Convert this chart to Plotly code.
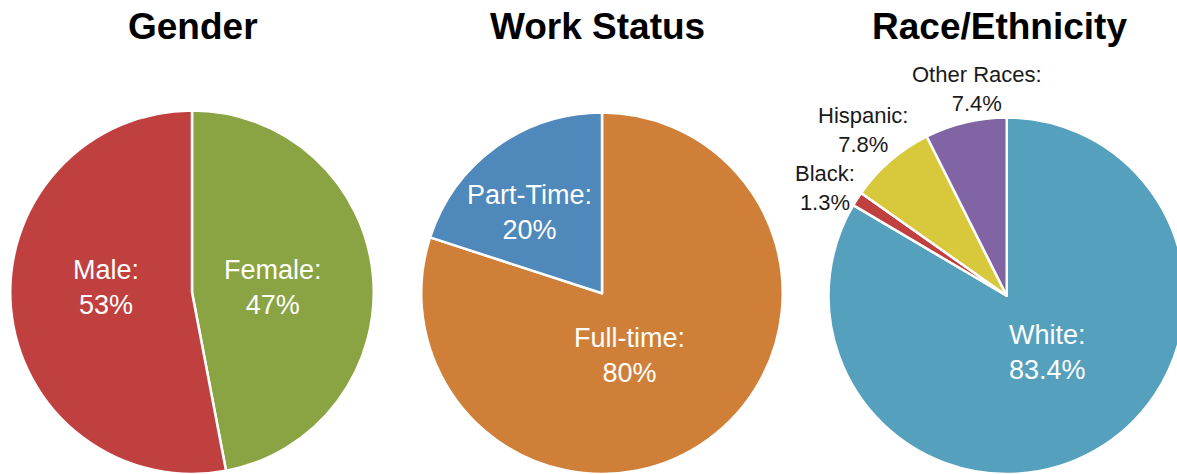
import plotly.graph_objects as go

# Survey breakdowns (percent)
gender_labels = ["Female", "Male"]
gender_values = [47, 53]
gender_colors = ["#8AA343", "#C0403F"]

work_labels = ["Full-time", "Part-Time"]
work_values = [80, 20]
work_colors = ["#D07F38", "#4F88BA"]

race_labels = ["White", "Black", "Hispanic", "Other Races"]
race_values = [83.4, 1.3, 7.8, 7.4]
race_colors = ["#55A0BC", "#C0403F", "#D8C83B", "#8064A3"]

titles = ["Gender", "Work Status", "Race/Ethnicity"]

W, H = 1185, 474
FONT = "Liberation Sans, Arial, sans-serif"

# Pie placement in pixels: (centre x, centre y from top, radius)
pie_geom = [(192, 292.5, 182), (602, 293.5, 181), (1007, 296, 178.5)]

# Label anchors in pixels (x, y from top) and whether the label sits inside
label_pos = {
    "Female": (273, 287.5, True),
    "Male": (106.5, 287.5, True),
    "Full-time": (629, 355.5, True),
    "Part-Time": (529.5, 212, True),
    "White": (1047, 352, True),
    "Black": (825, 188, False),
    "Hispanic": (863, 129.5, False),
    "Other Races": (977, 88.5, False),
}

title_pos = [(193, 26), (597, 26), (999, 26)]


def dom(cx, cy, r):
    return dict(
        x=[max(0, (cx - r) / W), min(1, (cx + r) / W)],
        y=[max(0, (H - cy - r) / H), min(1, (H - cy + r) / H)],
    )


fig = go.Figure()
for labels, values, colors, geom in [
    (gender_labels, gender_values, gender_colors, pie_geom[0]),
    (work_labels, work_values, work_colors, pie_geom[1]),
    (race_labels, race_values, race_colors, pie_geom[2]),
]:
    fig.add_trace(go.Pie(
        labels=labels, values=values,
        marker=dict(colors=colors, line=dict(color="white", width=2.5)),
        sort=False, direction="clockwise", rotation=0,
        textinfo="none", showlegend=False,
        hoverinfo="label+value",
        domain=dom(*geom),
    ))

    # Slice labels: "Name:" over "value%"
    for lab, val in zip(labels, values):
        x, y, inside = label_pos[lab]
        fig.add_annotation(
            text=f"{lab}:<br>{val:g}%",
            x=x / W, y=1 - y / H, xref="paper", yref="paper",
            xanchor="center", yanchor="middle", showarrow=False,
            align="center",
            font=dict(
                size=27 if inside else 22,
                color="#FFFFFF" if inside else "#1A1A1A",
                family=FONT,
            ),
        )

for t, (x, y) in zip(titles, title_pos):
    fig.add_annotation(
        text=f"<b>{t}</b>", x=x / W, y=1 - y / H, xref="paper", yref="paper",
        xanchor="center", yanchor="middle", showarrow=False,
        font=dict(size=37, color="#000000", family=FONT),
    )

fig.update_layout(
    width=W, height=H,
    margin=dict(l=0, r=0, t=0, b=0),
    paper_bgcolor="white",
    plot_bgcolor="white",
    font=dict(family=FONT),
)

fig.write_html(
    "out.html",
    post_script="document.body.style.overflow='hidden';document.documentElement.style.overflow='hidden';",
)
